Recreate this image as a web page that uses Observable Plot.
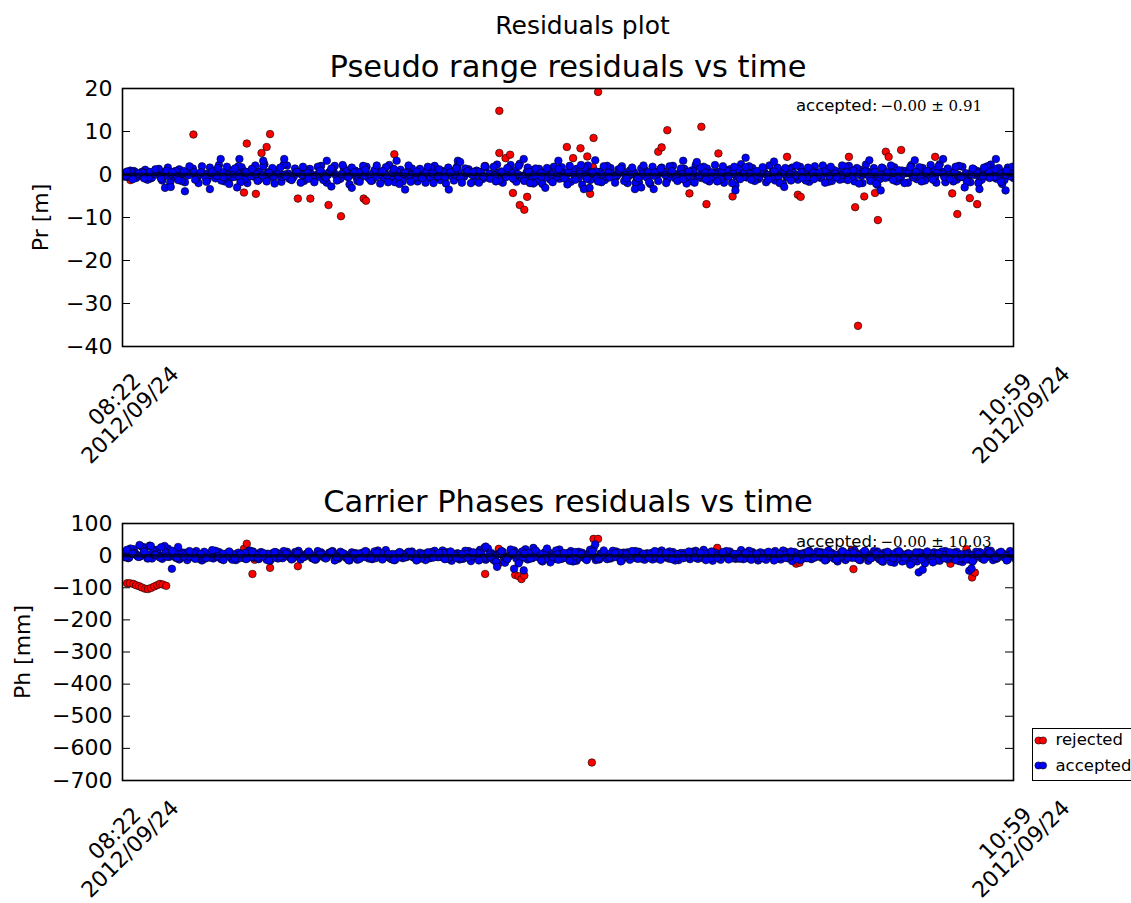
<!DOCTYPE html>
<html><head><meta charset="utf-8">
<script src="https://cdn.jsdelivr.net/npm/d3@7"></script>
<script src="https://cdn.jsdelivr.net/npm/@observablehq/plot@0.6"></script>
<style>
body{margin:0;background:#fff;overflow:hidden;}
#fig{position:relative;width:1131px;height:903px;overflow:hidden;font-family:"DejaVu Sans",sans-serif;background:#fff;}
#top,#bot{position:absolute;left:0;}
#top{top:0}
#bot{top:450px}
#legend{position:absolute;left:1032px;top:728px;width:130px;height:53px;border:1.5px solid #000;box-sizing:border-box;background:#fff;}
</style></head><body>
<div id="fig"><div id="top"></div><div id="bot"></div><div id="legend"></div></div>
<script>
// ---------- data ----------
const suptitle = "Residuals plot";
const prTitle = "Pseudo range residuals vs time";
const phTitle = "Carrier Phases residuals vs time";
const prLabel = "Pr [m]";
const phLabel = "Ph [mm]";
const prAnnotLabel = "accepted:";
const prAnnotValue = "\u22120.00 \u00b1 0.91";
const phAnnotValue = "\u22120.00 \u00b1 10.03";
const startTime = Date.UTC(2012, 8, 24, 8, 22);
const endTime = Date.UTC(2012, 8, 24, 10, 59);
const xTickLabels = ["08:22\n2012/09/24", "10:59\n2012/09/24"];
const prTicks = [20, 10, 0, -10, -20, -30, -40];
const phTicks = [100, 0, -100, -200, -300, -400, -500, -600, -700];
const legendLabels = ["rejected", "accepted"];

// accepted pseudo-range residuals [m], one value per minute on interleaved epochs
const prBandA = [0.4,-0.6,0.8,-0.3,1.1,-0.9,0.5,-1.4,1.6,-0.7,
 1.2,-1.8,0.6,-0.4,1.9,-1.1,0.3,2.2,-1.6,0.9,
 -0.5,1.7,-2.0,0.8,-1.3,2.4,-0.6,1.0,-1.7,2.1,
 -0.8,0.4,-1.5,1.3,-0.2,2.0,-1.9,0.7,-1.2,1.5,
 -2.3,0.9,-0.7,1.8,-1.4,0.5,-1.0,2.2,-1.8,1.1,
 -0.4,1.4,-1.6,0.6,-0.9,2.0,-1.3,-2.1,0.8,1.9,
 -0.6,1.2,-1.5,0.3,1.7,-0.8,2.3,-1.9,0.5,-1.1,
 2.5,-0.7,1.0,-1.6,-2.2,0.9,1.8,-1.0,0.4,-1.7,
 1.3,-2.4,2.1,-0.9,0.6,-1.3,1.5,-0.5,1.9,-2.0,
 0.7,-1.8,1.1,-2.2,0.5,1.6,-1.2,2.0,-0.6,1.3,
 -1.5,2.2,-0.8,1.4,-1.0,0.6,-1.9,1.2,-2.5,2.4,
 -0.7,1.5,-1.1,0.8,2.1,-1.4,0.9,-0.5,1.6,-1.2,
 0.5,-1.7,1.9,-0.8,1.3,-1.5,0.7,-1.0,2.0,-1.6,
 1.1,2.3,-0.9,-2.4,1.4,-0.6,1.7,-1.3,0.8,2.2,
 -1.1,1.5,-0.7,1.0,2.4,-1.8,0.6,-1.2,1.8,-0.9,
 1.2,-1.5,0.7,2.3,-1.0,-2.2,1.6,-0.8];
const prBandB = [-0.5,0.9,-0.8,0.6,-1.2,0.3,1.3,-0.4,-1.9,0.8,
 -1.5,0.6,1.4,-2.0,0.2,1.6,-0.9,-1.4,1.8,-0.6,
 1.9,-1.2,0.7,2.1,-0.8,-1.6,1.5,-0.3,2.3,-1.0,
 1.4,-1.9,0.9,-0.6,1.8,-1.3,0.5,2.0,-1.0,0.8,
 1.6,-1.5,2.0,-0.9,1.0,-2.1,1.7,-0.4,0.6,-1.6,
 2.1,-0.8,1.3,-1.9,1.5,-0.5,0.8,1.6,-1.4,-0.7,
 1.4,-2.0,0.9,-1.1,-0.5,1.8,-1.4,0.6,2.2,-1.7,
 -0.9,1.6,-2.1,1.3,0.5,-1.2,-0.6,1.7,-2.3,1.0,
 -0.8,1.6,-1.3,0.7,-1.8,2.0,-0.6,1.2,-1.5,0.9,
 -1.9,1.4,-0.7,1.8,-1.5,0.6,1.9,-0.9,1.4,-2.1,
 1.0,-0.7,1.8,-1.6,2.2,-1.1,0.9,-2.0,1.3,-0.6,
 1.9,-1.5,0.6,-1.8,-0.7,1.6,-2.1,1.2,-0.6,1.8,
 -1.4,0.9,-0.6,2.1,-1.7,1.0,-1.2,1.8,-0.5,1.5,
 -2.0,0.6,1.5,-1.1,-0.8,2.1,-1.6,0.9,-1.9,-0.7,
 1.7,-1.4,2.2,-1.9,0.6,1.4,-1.6,2.0,-0.7,-1.8,
 0.9,-1.2,1.9,-0.6,1.5,-1.3,-0.4,1.9];
const prBandC = [0.7,-1.1,0.2,-0.9,0.6,1.2,-1.0,0.9,0.5,-1.3,
 0.8,1.9,-1.2,0.5,-1.7,0.7,1.5,-0.6,-2.2,1.4,
 -1.8,0.5,1.3,-1.5,1.9,0.4,-2.1,1.6,-0.4,-1.3,
 0.6,1.8,-1.0,-1.8,0.9,-0.7,1.4,-1.4,2.2,-0.6,
 0.5,-1.7,1.1,-1.5,2.1,0.8,-1.8,1.3,-2.2,0.4,
 -1.7,0.7,-0.8,1.8,-2.0,1.2,-0.6,0.5,1.5,-1.9,
 0.8,0.6,-1.9,1.9,-1.0,-1.6,0.7,1.5,-0.9,2.0,
 -1.5,-2.0,1.4,-0.5,1.5,-1.8,1.3,-0.9,2.0,-1.2,
 2.2,-1.0,0.4,-1.6,1.9,-0.7,-1.9,1.4,-0.8,1.6,
 -0.9,2.1,-1.8,0.5,1.3,-2.0,0.8,-1.5,-1.1,0.7,
 -1.9,1.6,-1.2,0.5,-1.6,1.9,-0.5,1.8,-1.1,1.7,
 -1.2,0.8,1.7,-1.2,0.7,-2.0,1.5,-1.4,2.1,-0.8,
 1.6,-1.1,0.5,-1.9,1.8,-0.6,2.1,-1.3,0.9,-2.1,
 0.7,-1.5,-2.1,1.6,0.5,-1.3,1.0,-2.0,1.7,0.6,
 -1.6,0.8,-1.2,1.9,-0.6,-1.1,1.8,-0.5,-1.7,1.4,
 -2.0,1.6,-0.8,1.2,-1.7,0.9,1.8,-1.4];
const prCoreA = [0.2,-0.4,0.6,-0.1,0.3,-0.7,0.5,0.0,-0.3,0.7,
 -0.5,0.1,0.4,-0.6,0.2,-0.2,0.8,-0.4,0.1,-0.7,
 0.5,-0.1,0.3,-0.5,0.6,-0.3,0.0,0.7,-0.6,0.2,
 -0.4,0.5,-0.2,0.1,-0.7,0.4,-0.1,0.6,-0.5,0.3,
 0.0,-0.6,0.7,-0.3,0.2,-0.1,0.5,-0.7,0.3,-0.2,
 0.6,-0.4,0.1,0.4,-0.6,0.2,-0.3,0.7,-0.1,0.5,
 -0.5,0.3,-0.2,0.6,-0.7,0.1,0.4,-0.4,0.0,0.8,
 -0.3,0.5,-0.6,0.2,-0.1,0.7,-0.5,0.3,-0.2,0.4,
 -0.7,0.1,0.6,-0.3,0.5,-0.6,0.2,-0.1,0.7,-0.4,
 0.3,-0.5,0.0,0.6,-0.2,0.4,-0.7,0.1,0.5,-0.3,
 0.2,-0.6,0.7,-0.1,0.4,-0.4,0.1,0.6,-0.5,0.3,
 -0.2,0.5,-0.7,0.2,0.0,-0.3,0.6,-0.6,0.4,-0.1,
 0.7,-0.4,0.2,-0.5,0.3,0.1,-0.7,0.5,-0.2,0.6,
 -0.3,0.0,0.4,-0.6,0.7,-0.1,0.2,-0.5,0.3,-0.4,
 0.5,-0.2,0.1,-0.7,0.6,-0.3,0.4,0.0,-0.6,0.2,
 -0.1,0.7,-0.4,0.3,-0.5,0.5,-0.2,0.1];
const prCoreB = [-0.3,0.5,-0.1,0.4,-0.6,0.2,-0.4,0.7,0.1,-0.5,
 0.3,-0.2,0.6,0.0,-0.7,0.4,-0.3,0.5,-0.1,0.2,
 -0.6,0.7,-0.4,0.1,-0.2,0.5,-0.5,0.3,0.0,-0.3,
 0.6,-0.1,0.4,-0.6,0.2,-0.4,0.7,-0.2,0.1,-0.5,
 0.3,0.5,-0.3,0.0,-0.6,0.6,-0.2,0.4,-0.5,0.1,
 -0.1,0.3,-0.7,0.5,0.2,-0.4,0.6,-0.3,0.0,-0.6,
 0.4,-0.1,0.7,-0.5,0.2,-0.2,0.5,-0.6,0.3,0.1,
 -0.4,0.6,-0.2,0.4,-0.7,0.0,0.3,-0.5,0.6,-0.1,
 0.2,-0.3,0.5,-0.6,0.1,0.4,-0.4,0.7,-0.2,0.0,
 -0.6,0.2,0.5,-0.3,0.6,-0.1,0.3,-0.5,0.1,-0.4,
 0.7,-0.2,0.4,-0.6,0.0,0.5,-0.3,0.2,-0.7,0.6,
 0.1,-0.4,0.3,-0.1,0.6,-0.5,0.2,0.0,-0.3,0.5,
 -0.6,0.4,-0.1,0.7,-0.4,0.2,-0.2,0.5,-0.5,0.1,
 0.3,-0.6,0.6,0.0,-0.3,0.4,-0.7,0.2,0.5,-0.1,
 -0.4,0.3,-0.5,0.6,0.1,-0.2,0.5,-0.6,0.3,0.0,
 0.4,-0.3,0.6,-0.5,0.2,-0.1,0.4,-0.2];
// accepted pseudo-range outliers: minutes after start, value [m]
const prAccOutMin = [7.5,8.5,11.0,15.4,17.3,20.6,20.2,24.8,28.5,36.0,36.8,40.4,48.3,49.8,57.5,59.1,59.5,70.7,74.5,76.8,81.3,82.3,83.3,90.3,91.4,93.6,98.8,101.2,108.0,109.8,114.8,116.6,131.6,133.6,139.6,144.6,148.4,151.0,153.9,155.6];
const prAccOutVal = [-3.1,-2.9,-3.9,-3.4,3.6,3.6,-3.0,3.2,3.6,3.2,-2.8,-3.1,3.2,-3.5,-3.5,3.2,2.9,3.6,-3.1,3.2,-3.4,-3.1,3.3,-3.4,-3.0,-3.4,3.2,2.9,-3.7,3.9,3.0,-2.9,3.3,-3.7,3.3,3.6,-3.0,-3.4,3.6,-3.7];
// rejected pseudo-range residuals
const prRejMin = [1.4,4.5,12.5,21.4,21.9,23.0,23.5,24.5,25.4,26.0,30.9,33.1,36.3,38.5,42.5,42.9,47.9,63.9,66.4,66.4,67.5,68.3,68.8,70.0,70.8,71.3,78.3,79.4,80.7,81.9,82.4,82.9,83.0,83.8,94.4,95.0,96.0,99.9,102.0,102.9,105.0,107.5,117.1,119.0,119.5,128.0,129.1,129.6,130.7,132.6,133.1,134.5,135.0,137.2,143.2,146.2,147.1,149.3,150.6];
const prRejVal = [-1.3,-1.1,9.3,-4.2,7.2,-0.2,-4.5,5.0,6.4,9.4,-5.6,-5.6,-7.1,-9.7,-5.6,-6.1,4.7,2.0,14.8,5.0,3.8,4.6,-4.3,-7.1,-8.2,-5.2,6.4,3.8,6.1,4.2,-4.5,1.7,8.5,19.2,5.3,6.3,10.3,-4.4,11.1,-6.9,4.9,-5.1,4.1,-4.7,-5.2,4.1,-7.6,-35.2,-5.1,-4.3,-10.6,5.3,4.1,5.7,4.1,-4.4,-9.2,-5.5,-6.9];

// accepted carrier-phase residuals [mm]
const phBandA = [12,-8,20,-3,25,-6,18,-10,22,4,
 -12,9,-5,14,-15,6,-9,11,-4,8,
 -14,5,-7,13,-11,3,-16,10,-6,12,
 -9,15,-3,7,-13,10,-6,14,-10,5,
 -15,8,-4,12,-11,16,-7,3,-14,9,
 -5,13,-12,6,-8,15,-3,10,-16,7,
 -10,14,-6,18,-13,8,-20,12,-4,16,
 -15,20,-8,11,-18,6,-11,19,-7,14,
 -16,9,-5,22,-12,7,-9,13,-15,10,
 -6,12,-13,5,-9,16,-4,11,-14,8,
 -11,15,-7,9,-16,6,-3,13,-10,17,
 -8,11,-15,7,-5,14,-12,9,-17,6,
 -9,15,-6,11,-13,8,-18,12,-4,16,
 -14,10,-7,13,-19,6,-22,9,-15,-25,
 -18,7,-12,10,-16,14,-9,12,-20,8,
 -13,11,-7,15,-10,6,-12,9];
const phBandB = [-5,22,3,28,-9,15,-2,30,8,-7,
 10,-14,6,-9,12,-6,15,-11,7,-13,
 9,-8,16,-4,11,-13,7,-9,14,-5,
 11,-12,6,-8,14,-4,9,-15,12,-7,
 10,-13,5,-9,13,-6,17,-11,4,-8,
 12,-7,9,-14,11,-3,16,-10,6,-12,
 15,-17,9,-8,22,-14,6,-22,19,-9,
 13,-12,24,-6,10,-21,16,-10,7,-18,
 12,-8,18,-14,6,-11,15,-5,9,-13,
 14,-9,7,-12,10,-6,13,-15,8,-4,
 12,-10,18,-5,9,-13,14,-8,6,-11,
 15,-6,10,-13,8,-9,16,-4,11,-14,
 7,-11,13,-5,16,-10,6,-14,12,-8,
 9,-16,14,-12,5,-20,11,-18,7,-12,
 10,-24,6,-15,13,-11,9,-17,5,-13,
 12,-9,16,-14,8,-6,14,-11];
const phBandC = [18,6,-4,12,31,2,26,-3,15,27,
 -3,14,-10,5,-7,17,-2,-14,13,-9,
 4,-11,12,-6,8,-15,11,-3,6,-12,
 7,-5,13,-11,4,-9,12,-5,8,-14,
 6,-10,14,-7,9,-12,5,-14,11,-4,
 8,-15,4,10,-6,8,-11,13,-7,4,
 -6,10,-15,25,-3,-19,14,-11,8,-24,
 6,-9,16,-15,22,-4,-13,8,-16,11,
 5,-14,13,-9,16,-6,8,-18,4,14,
 -10,6,-7,14,-13,9,-11,5,-8,13,
 -5,9,-14,13,-7,11,-12,5,-9,8,
 -13,6,-8,12,-15,5,-7,13,-10,4,
 12,-6,8,-15,4,-12,14,-7,9,-13,
 15,-9,4,-17,12,-8,14,-6,-28,10,
 -11,13,-21,5,-8,10,-14,4,-12,-18,
 5,-13,9,-6,12,-15,7,-8];
const phCoreA = [3,-6,8,-2,5,-9,7,0,-4,10,
 -7,2,5,-8,3,-3,9,-5,1,-9,
 6,-1,4,-7,8,-4,0,9,-8,3,
 -5,7,-3,2,-9,5,-1,8,-6,4,
 0,-8,9,-4,3,-2,6,-9,4,-3,
 8,-5,1,5,-8,3,-4,9,-2,6,
 -7,4,-3,8,-9,2,5,-6,0,10,
 -4,6,-8,3,-1,9,-6,4,-3,5,
 -9,2,8,-4,6,-7,3,-2,9,-5,
 4,-6,0,8,-3,5,-9,1,6,-4,
 3,-8,9,-1,5,-6,2,8,-7,4,
 -3,6,-9,2,0,-4,8,-8,5,-1,
 9,-5,3,-7,4,1,-9,6,-3,8,
 -4,0,5,-8,9,-2,3,-7,4,-6,
 6,-3,1,-9,8,-4,5,0,-8,3,
 -2,9,-5,4,-7,6,-3,2];
const phCoreB = [-4,7,-1,5,-8,3,-6,9,1,-7,
 4,-3,8,0,-9,5,-4,6,-2,3,
 -8,9,-5,2,-3,6,-7,4,0,-4,
 8,-2,5,-8,3,-6,9,-3,1,-7,
 4,6,-4,0,-8,7,-3,5,-6,2,
 -1,4,-9,6,3,-5,8,-4,0,-8,
 5,-2,9,-7,3,-3,6,-8,4,1,
 -5,8,-3,5,-9,0,4,-7,8,-2,
 3,-4,6,-8,2,5,-5,9,-3,0,
 -8,3,6,-4,8,-2,4,-7,2,-5,
 9,-3,5,-8,0,6,-4,3,-9,7,
 1,-5,4,-2,8,-6,3,0,-4,6,
 -8,5,-2,9,-5,3,-3,6,-7,2,
 4,-8,7,0,-4,5,-9,3,6,-2,
 -6,4,-7,8,2,-3,6,-8,4,0,
 5,-4,8,-6,3,-1,5,-3];
const phAccOutMin = [3.0,5.0,8.7,64.0,66.0,69.0,70.7,83.3,140.3,141.0,149.2,149.6];
const phAccOutVal = [33,30,-41,28,-35,-41,-46,35,-52,-44,-47,-40];
const phRejMin = [0.8,1.3,1.9,2.4,2.9,3.4,4.0,4.5,5.0,5.6,6.1,6.6,7.1,7.7,21.4,21.9,22.9,23.3,26.0,30.9,63.9,66.2,66.3,69.2,69.8,70.3,70.8,82.7,83.0,83.8,104.8,116.7,118.7,119.3,128.8,129.2,128.5,145.9,146.5,148.7,149.7,150.2];
const phRejVal = [-86,-86,-88,-92,-95,-99,-103,-104,-101,-96,-92,-88,-90,-94,21,37,-57,-13,-38,-33,-57,-26,21,-60,-64,-73,-62,-644,52,52,24,13,-25,-22,-42,0,18,-25,8,20,-68,-53];

// ---------- build ----------
const MIN = 60000;
const toDate = m => new Date(startTime + m * MIN);
function bandRows(arrays) {
  const rows = [];
  arrays.forEach((arr, k) => arr.forEach((v, i) => rows.push({t: toDate(i + k / arrays.length), v})));
  return rows;
}
function pairRows(mins, vals) { return mins.map((m, i) => ({t: toDate(m), v: vals[i]})); }
const fmt = d => d < 0 ? "\u2212" + Math.abs(d) : String(d);
const xLabelRows = [{t: new Date(startTime), label: xTickLabels[0]}, {t: new Date(endTime), label: xTickLabels[1]}];

const W = 1131, ML = 122, MR = 118;
const plotW = W - ML - MR;
const dotStyle = {r: 3.8, stroke: "#000", strokeWidth: 0.6, clip: true};

function panel({height, marginTop, marginBottom, yDomain, ticks, label, labelDx, title, annotValue, annotDy, acc, rej, extra = []}) {
  return Plot.plot({
    width: W, height, marginTop, marginBottom, marginLeft: ML, marginRight: MR,
    style: {fontFamily: "DejaVu Sans", fontSize: "22px", background: "transparent", color: "#000", overflow: "visible"},
    x: {type: "utc", domain: [new Date(startTime), new Date(endTime)], axis: null},
    y: {domain: yDomain, axis: null},
    marks: [
      Plot.dot(rej, {x: "t", y: "v", fill: "#ff0000", ...dotStyle}),
      Plot.dot(acc, {x: "t", y: "v", fill: "#0000ff", ...dotStyle}),
      Plot.ruleY([0], {stroke: "#000010", strokeWidth: 3.5, strokeOpacity: 0.7}),
      Plot.tickY(ticks, {y: d => d, stroke: "#000", strokeWidth: 1, insetRight: plotW - 8}),
      Plot.tickY(ticks, {y: d => d, stroke: "#000", strokeWidth: 1, insetLeft: plotW - 8}),
      Plot.axisY({ticks, tickSize: 0, tickPadding: 10, fontSize: 22, tickFormat: fmt, label: null}),
      Plot.frame({stroke: "#000", strokeWidth: 1.6}),
      Plot.text(xLabelRows, {x: "t", text: "label", frameAnchor: "bottom", dy: 61, rotate: -45, textAnchor: "middle", lineAnchor: "middle", lineHeight: 1.0, fontSize: 22}),
      Plot.text([label], {text: d => d, frameAnchor: "left", dx: labelDx, rotate: -90, textAnchor: "middle", lineAnchor: "middle", fontSize: 22}),
      Plot.text([title], {text: d => d, frameAnchor: "top", dy: -12, lineAnchor: "bottom", fontSize: 30.5}),
      Plot.text([prAnnotLabel], {text: d => d, frameAnchor: "top-right", dx: -136, dy: annotDy, textAnchor: "end", lineAnchor: "bottom", fontSize: 16.5}),
      Plot.text([annotValue], {text: d => d, frameAnchor: "top-right", dx: -133, dy: annotDy, textAnchor: "start", lineAnchor: "bottom", fontSize: 15, fontFamily: "DejaVu Serif"}),
      ...extra
    ]
  });
}

const prAcc = [...bandRows([prBandA, prCoreA, prBandB, prCoreB, prBandC]), ...pairRows(prAccOutMin, prAccOutVal)];
const prRej = pairRows(prRejMin, prRejVal);
const phAcc = [...bandRows([phBandA, phCoreA, phBandB, phCoreB, phBandC]), ...pairRows(phAccOutMin, phAccOutVal)];
const phRej = pairRows(phRejMin, phRejVal);

document.getElementById("top").append(panel({
  height: 450, marginTop: 88, marginBottom: 104, yDomain: [-40, 20], ticks: prTicks,
  label: prLabel, labelDx: -82, title: prTitle, annotValue: prAnnotValue, annotDy: 22,
  acc: prAcc, rej: prRej,
  extra: [Plot.text([suptitle], {text: d => d, frameAnchor: "top", dx: 14.5, dy: -55, lineAnchor: "bottom", fontSize: 25})]
}));
document.getElementById("bot").append(panel({
  height: 453, marginTop: 73, marginBottom: 123, yDomain: [-700, 100], ticks: phTicks,
  label: phLabel, labelDx: -100, title: phTitle, annotValue: phAnnotValue, annotDy: 23,
  acc: phAcc, rej: phRej
}));

// legend
const lg = d3.select("#legend").append("svg").attr("width", 130).attr("height", 50).style("display", "block");
const legendColors = ["#ff0000", "#0000ff"];
legendLabels.forEach((name, i) => {
  const cy = 11.5 + i * 25;
  [5.5, 10].forEach(cx => lg.append("circle").attr("cx", cx).attr("cy", cy).attr("r", 3.6)
    .attr("fill", legendColors[i]).attr("stroke", "#000").attr("stroke-width", 0.6));
  lg.append("text").attr("x", 22.5).attr("y", cy + 4.5 + i * 0.5).attr("font-size", 16.5)
    .attr("font-family", "DejaVu Sans").text(name);
});
</script></body></html>
